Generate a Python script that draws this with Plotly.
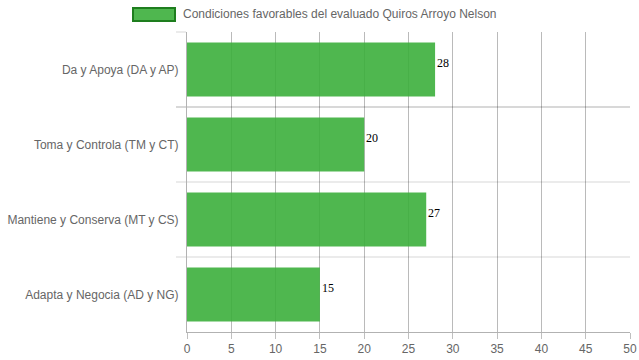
import plotly.graph_objects as go

categories = ["Da y Apoya (DA y AP)", "Toma y Controla (TM y CT)",
              "Mantiene y Conserva (MT y CS)", "Adapta y Negocia (AD y NG)"]
values = [28, 20, 27, 15]
series_name = "Condiciones favorables del evaluado Quiros Arroyo Nelson"

BAR = "rgba(60,175,60,0.9)"

fig = go.Figure()
fig.add_trace(go.Bar(
    x=values, y=categories, orientation="h",
    marker=dict(color=BAR, line=dict(width=0)),
    width=0.72, name=series_name, showlegend=False, hoverinfo="skip",
))

for c, v in zip(categories, values):
    fig.add_annotation(x=v, y=c, text=str(v), showarrow=False,
                       xanchor="left", yanchor="middle", xshift=0, yshift=7,
                       font=dict(family="Liberation Serif, Times New Roman, serif",
                                 size=12, color="#000"))

fig.update_layout(
    width=639, height=360,
    margin=dict(l=187, r=9, t=32, b=28),
    paper_bgcolor="white", plot_bgcolor="white",
    font=dict(family="Liberation Sans, Arial, sans-serif", size=12, color="#666"),
    xaxis=dict(range=[0, 50], dtick=5, showgrid=True, gridcolor="rgba(0,0,0,0.27)",
               gridwidth=1, zeroline=False, showline=True, linecolor="rgba(0,0,0,0.3)",
               ticks="outside", ticklen=6, tickcolor="rgba(0,0,0,0.25)",
               tickfont=dict(color="#666", size=12), automargin=False),
    yaxis=dict(autorange="reversed", tickson="boundaries", showgrid=True,
               gridcolor="rgba(0,0,0,0.08)", gridwidth=2, showline=True,
               linecolor="rgba(0,0,0,0.3)",
               ticks="outside", ticklen=10, tickcolor="rgba(0,0,0,0.08)", tickwidth=2,
               ticklabelstandoff=5,
               tickfont=dict(color="#666", size=12), automargin=False),
)

# legend-like box and label
fig.add_shape(type="rect", xref="paper", yref="paper",
              x0=(133 - 187) / 443, x1=(175 - 187) / 443,
              y0=1 + (32 - 21) / 300, y1=1 + (32 - 8) / 300,
              fillcolor=BAR, line=dict(color="#1e7e1e", width=2))
fig.add_annotation(xref="paper", yref="paper", x=(181 - 187) / 443, y=1 + (32 - 14) / 300,
                   text=series_name, showarrow=False, xanchor="left", yanchor="middle",
                   font=dict(size=12, color="#666"))

fig.write_html("out.html", config={"displayModeBar": False},
               post_script="document.body.style.margin='0';")
